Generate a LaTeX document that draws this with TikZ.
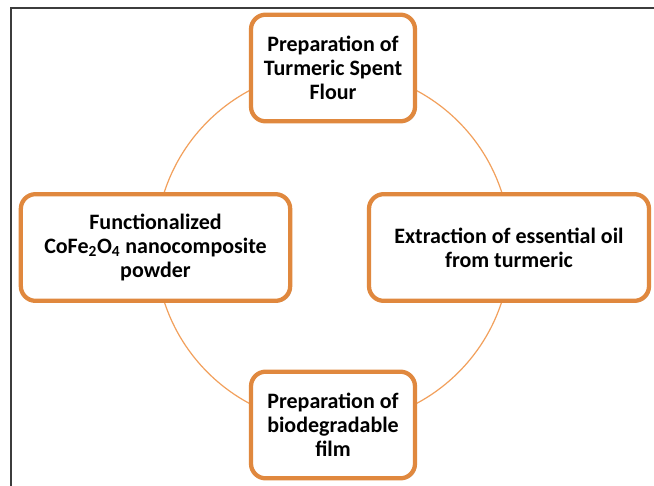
\documentclass[tikz,border=0pt]{standalone}
\usepackage{fontspec}
\setmainfont{Carlito}
\usetikzlibrary{shadows}
\definecolor{boxorange}{RGB}{224,136,62}
\definecolor{ringorange}{RGB}{242,160,92}
\definecolor{framegray}{RGB}{60,60,60}

\begin{document}
\begin{tikzpicture}[x=0.75pt, y=-0.75pt,
  stage/.style={draw=boxorange, line width=3.2pt, fill=white, rounded corners=11pt,
    align=center, font=\fontsize{16.5}{18}\selectfont\bfseries, inner sep=0pt,
    drop shadow={shadow xshift=1.2pt, shadow yshift=-1.2pt, opacity=0.35, fill=black!60}}]
\useasboundingbox (0,0) rectangle (654,486);
\fill[white] (0,0) rectangle (654,486);
\draw[framegray, line width=0.8pt] (11,486) -- (11,8) -- (654,8);
\coordinate (hub) at (333,247);
\draw[ringorange, line width=0.9pt] (hub) circle[radius=133pt];
\node[stage, minimum width=123pt, minimum height=80pt] (flour) at (333,68) {Preparation of\\Turmeric Spent\\Flour};
\node[stage, minimum width=210pt, minimum height=80pt] (oil) at (509,247.5) {Extraction of essential oil\\from turmeric};
\node[stage, minimum width=123pt, minimum height=80pt] (film) at (333,425) {Preparation of\\biodegradable\\film};
\node[stage, minimum width=202pt, minimum height=80pt] (powder) at (155.5,247.5) {Functionalized\\CoFe\textsubscript{2}O\textsubscript{4} nanocomposite\\powder};
\end{tikzpicture}
\end{document}
